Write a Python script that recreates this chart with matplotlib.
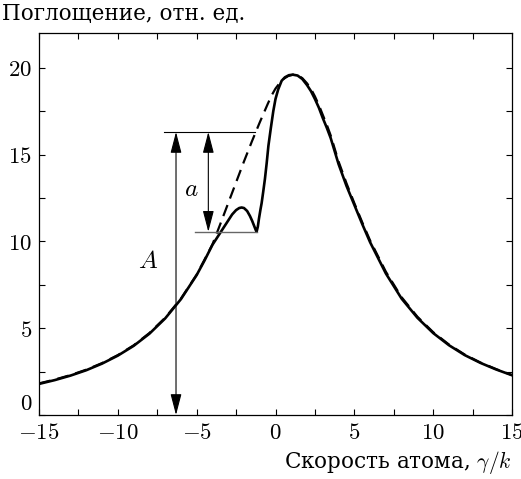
import numpy as np
import matplotlib
matplotlib.use("Agg")
import matplotlib.pyplot as plt

plt.rcParams['mathtext.fontset'] = 'cm'
plt.rcParams['font.family'] = ['DejaVu Serif']
plt.rcParams['lines.scale_dashes'] = False

# absorption contour without the dip (dashed)
x_env = [-15, -14, -13, -12, -11, -10, -9, -8, -7, -6, -5, -4, -3.5, -3, -2.5, -2, -1.5, -1,
         -0.5, -0.25, 0, 0.25, 0.5, 0.8, 1.1, 1.4, 1.7, 2, 2.25, 2.5, 2.75, 3, 3.25, 3.5, 4, 4.5,
         5, 5.5, 6, 7, 8, 9, 10, 11, 12, 13, 14, 15]
y_env = [1.82, 2.04, 2.3, 2.61, 2.99, 3.45, 4.01, 4.72, 5.6, 6.7, 8.08, 9.82, 11.0, 12.2, 13.4, 14.6, 15.75, 16.85,
         17.9, 18.4, 18.8, 19.1, 19.35, 19.52, 19.6, 19.57, 19.4, 19.1, 18.78, 18.35, 17.85, 17.28, 16.72, 16.1, 14.6, 13.35,
         12.2, 11.1, 10.05, 8.25, 6.78, 5.66, 4.77, 4.06, 3.48, 3.02, 2.64, 2.3]

# section of the contour with the dip (solid)
x_dip = [-4.0, -3.75, -3.5, -3.25, -3.0, -2.75, -2.5, -2.3, -2.15, -2.0, -1.8, -1.62, -1.48, -1.35, -1.25, -1.2,
         -1.12, -1.05, -0.95, -0.88, -0.78, -0.67, -0.56, -0.45, -0.3, -0.14, 0.0, 0.17, 0.39, 0.6, 0.85]
y_dip = [9.80, 10.15, 10.5, 10.85, 11.2, 11.55, 11.8, 11.92, 11.95, 11.92, 11.75, 11.46, 11.18, 10.88, 10.65, 10.55,
         10.85, 11.3, 11.85, 12.2, 12.85, 13.6, 14.5, 15.5, 16.5, 17.5, 18.2, 18.75, 19.25, 19.45, 19.57]

# contour on the wings (solid)
x_wing = [-15, -14, -13, -12, -11, -10, -9, -8, -7, -6, -5, -4.5,
          1.1, 1.4, 1.7, 2, 2.25, 2.5, 2.75, 3, 3.25, 3.5, 4, 4.5, 5, 5.5, 6, 7, 8, 9, 10, 11, 12, 13, 14, 15]
y_wing = [1.79, 2.01, 2.27, 2.58, 2.96, 3.42, 3.98, 4.68, 5.56, 6.67, 8.06, 8.9,
          19.6, 19.55, 19.35, 19.0, 18.65, 18.2, 17.7, 17.1, 16.55, 15.95, 14.45, 13.2,
          12.1, 11.0, 9.95, 8.15, 6.7, 5.6, 4.72, 4.02, 3.45, 3.0, 2.62, 2.29]

# levels for the markers A and a
x_A = -6.31
x_a = -4.26
y_top = 16.3
y_bottom = 10.55
x_top = [-7.07, -1.3]
x_bottom = [-5.1, -1.2]

x_ticks = [-15, -10, -5, 0, 5, 10, 15]
y_ticks = [0, 5, 10, 15, 20]

x_wing = np.array(x_wing)
y_wing = np.array(y_wing)
left = x_wing < x_dip[0]
right = x_wing > x_dip[-1]
x_sol = np.concatenate([x_wing[left], x_dip, x_wing[right]])
y_sol = np.concatenate([y_wing[left], y_dip, y_wing[right]])

fig = plt.figure(figsize=(5.21, 4.79), dpi=100)
ax = fig.add_axes([39/521, 1 - 415/479, (512 - 39)/521, (415 - 33)/479])

ax.plot(x_env, y_env, color='black', lw=1.6, dashes=(8.5, 5.0))
ax.plot(x_sol, y_sol, color='black', lw=1.9)

ax.plot(x_top, [y_top, y_top], color='black', lw=0.8)
ax.plot(x_bottom, [y_bottom, y_bottom], color='0.4', lw=1.0)

arrow = dict(arrowstyle='<|-|>,head_length=0.65,head_width=0.17', color='black', lw=0.8,
             shrinkA=0, shrinkB=0, mutation_scale=20)
ax.annotate('', xy=(x_A, 0), xytext=(x_A, y_top), arrowprops=arrow)
ax.annotate('', xy=(x_a, y_bottom), xytext=(x_a, y_top), arrowprops=arrow)
ax.text(-8.09, 8.84, '$A$', fontsize=18, ha='center', va='center')
ax.text(-5.32, 13.0, '$a$', fontsize=18, ha='center', va='center')

ax.set_xlim(-15, 15)
ax.set_ylim(0, 22)
ax.set_xticks(x_ticks)
ax.set_xticklabels(['$%d$' % v for v in x_ticks])
ax.set_yticks(y_ticks)
ax.set_yticklabels(['$%d$' % v for v in y_ticks])
ax.set_xticks(np.arange(-12.5, 15, 5), minor=True)
ax.set_yticks([2.5, 7.5, 12.5, 17.5], minor=True)
ax.tick_params(which='both', direction='in', top=True, right=True, length=4.5, width=0.8, labelsize=16.5)
ax.tick_params(axis='x', pad=5)
ax.tick_params(axis='y', pad=5)
ax.get_yticklabels()[0].set_verticalalignment('bottom')
for s in ax.spines.values():
    s.set_linewidth(0.9)

fig.text(512/521, 1 - 463/479, 'Скорость атома, $\\gamma/k$', fontsize=15.5, ha='right', va='center')
fig.text(2/521, 1 - 14/479, 'Поглощение, отн. ед.', fontsize=15.5, ha='left', va='center')

fig.savefig('out.png', dpi=100)
